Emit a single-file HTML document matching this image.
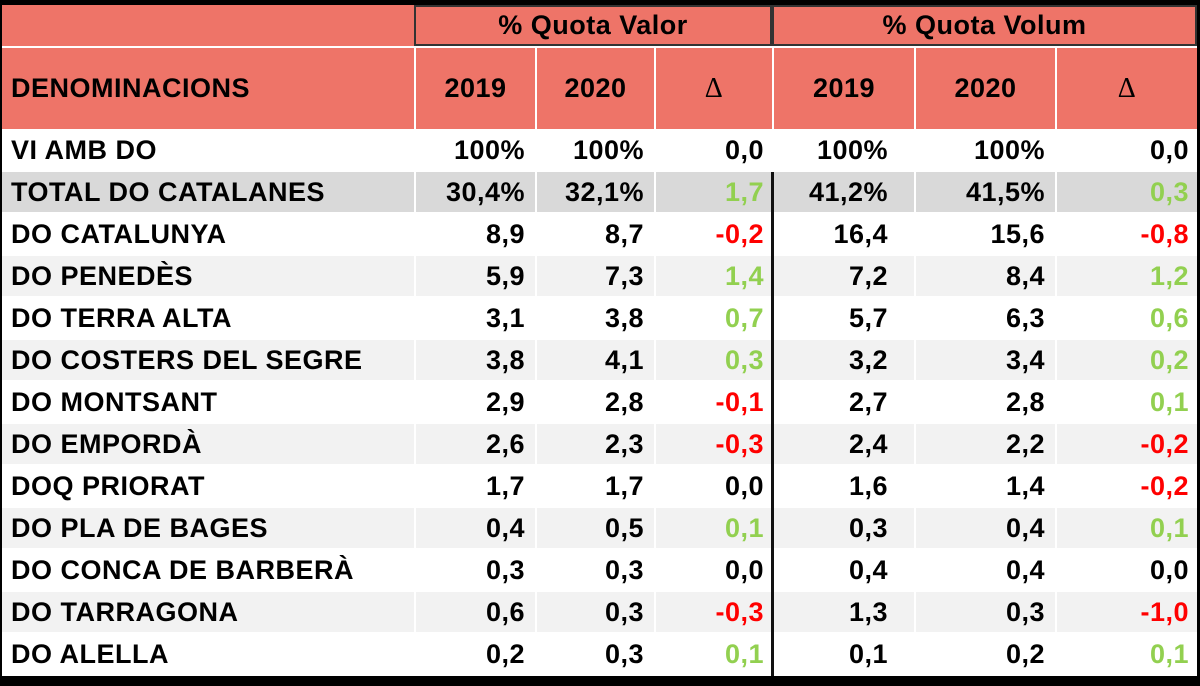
<!DOCTYPE html>
<html><head><meta charset="utf-8"><style>
body{margin:0;width:1200px;height:686px;background:#000;position:relative;overflow:hidden;font-family:"Liberation Sans",Arial,sans-serif;font-weight:bold;font-size:27px;letter-spacing:0.5px;color:#000}
#w{position:absolute;left:2px;top:5px;width:1195px;height:671px;background:#fff}
.r{position:absolute;left:0;width:1200px;height:40px}
.c{position:absolute;top:0;height:100%;box-sizing:border-box;display:flex;align-items:center;justify-content:flex-end;padding-right:10px;white-space:nowrap}
.c0{left:2px;width:412px;justify-content:flex-start;padding-left:9px}
.c1{left:416px;width:119px}.c2{left:537px;width:117px}.c3{left:656px;width:116px;padding-right:8px}
.c4{left:774px;width:140px;padding-right:26px}.c5{left:916px;width:139px;padding-right:10px}.c6{left:1057px;width:140px;padding-right:8px}
.h .c{background:#ee7468;justify-content:center;padding:0}
.h .c0{justify-content:flex-start;padding-left:9px}
.g .c{background:#f2f2f2}.t .c{background:#d9d9d9}
.gr{color:#92d050}.rd{color:#ff0000}
.d{font-family:"Liberation Serif",serif;font-weight:normal;font-size:28px}
#vl{position:absolute;left:771px;top:172px;width:3px;height:504px;background:#111}
</style></head><body>
<div id="w"></div>
<div class="r h" style="top:5px;height:41px">
<div class="c c0" style="width:412px"></div>
<div class="c" style="left:414px;width:358px;border:2px solid #333">% Quota Valor</div>
<div class="c" style="left:772px;width:425px;border:2px solid #333">% Quota Volum</div>
</div>
<div class="r h" style="top:48px;height:81px">
<div class="c c0">DENOMINACIONS</div><div class="c c1">2019</div><div class="c c2">2020</div><div class="c c3 d">Δ</div><div class="c c4">2019</div><div class="c c5">2020</div><div class="c c6 d">Δ</div>
</div>
<div class="r" style="top:130px"><div class="c c0">VI AMB DO</div><div class="c c1">100%</div><div class="c c2">100%</div><div class="c c3">0,0</div><div class="c c4">100%</div><div class="c c5">100%</div><div class="c c6">0,0</div></div>
<div class="r t" style="top:172px"><div class="c c0">TOTAL DO CATALANES</div><div class="c c1">30,4%</div><div class="c c2">32,1%</div><div class="c c3 gr">1,7</div><div class="c c4">41,2%</div><div class="c c5">41,5%</div><div class="c c6 gr">0,3</div></div>
<div class="r" style="top:214px"><div class="c c0">DO CATALUNYA</div><div class="c c1">8,9</div><div class="c c2">8,7</div><div class="c c3 rd">-0,2</div><div class="c c4">16,4</div><div class="c c5">15,6</div><div class="c c6 rd">-0,8</div></div>
<div class="r g" style="top:256px"><div class="c c0">DO PENEDÈS</div><div class="c c1">5,9</div><div class="c c2">7,3</div><div class="c c3 gr">1,4</div><div class="c c4">7,2</div><div class="c c5">8,4</div><div class="c c6 gr">1,2</div></div>
<div class="r" style="top:298px"><div class="c c0">DO TERRA ALTA</div><div class="c c1">3,1</div><div class="c c2">3,8</div><div class="c c3 gr">0,7</div><div class="c c4">5,7</div><div class="c c5">6,3</div><div class="c c6 gr">0,6</div></div>
<div class="r g" style="top:340px"><div class="c c0">DO COSTERS DEL SEGRE</div><div class="c c1">3,8</div><div class="c c2">4,1</div><div class="c c3 gr">0,3</div><div class="c c4">3,2</div><div class="c c5">3,4</div><div class="c c6 gr">0,2</div></div>
<div class="r" style="top:382px"><div class="c c0">DO MONTSANT</div><div class="c c1">2,9</div><div class="c c2">2,8</div><div class="c c3 rd">-0,1</div><div class="c c4">2,7</div><div class="c c5">2,8</div><div class="c c6 gr">0,1</div></div>
<div class="r g" style="top:424px"><div class="c c0">DO EMPORDÀ</div><div class="c c1">2,6</div><div class="c c2">2,3</div><div class="c c3 rd">-0,3</div><div class="c c4">2,4</div><div class="c c5">2,2</div><div class="c c6 rd">-0,2</div></div>
<div class="r" style="top:466px"><div class="c c0">DOQ PRIORAT</div><div class="c c1">1,7</div><div class="c c2">1,7</div><div class="c c3">0,0</div><div class="c c4">1,6</div><div class="c c5">1,4</div><div class="c c6 rd">-0,2</div></div>
<div class="r g" style="top:508px"><div class="c c0">DO PLA DE BAGES</div><div class="c c1">0,4</div><div class="c c2">0,5</div><div class="c c3 gr">0,1</div><div class="c c4">0,3</div><div class="c c5">0,4</div><div class="c c6 gr">0,1</div></div>
<div class="r" style="top:550px"><div class="c c0">DO CONCA DE BARBERÀ</div><div class="c c1">0,3</div><div class="c c2">0,3</div><div class="c c3">0,0</div><div class="c c4">0,4</div><div class="c c5">0,4</div><div class="c c6">0,0</div></div>
<div class="r g" style="top:592px"><div class="c c0">DO TARRAGONA</div><div class="c c1">0,6</div><div class="c c2">0,3</div><div class="c c3 rd">-0,3</div><div class="c c4">1,3</div><div class="c c5">0,3</div><div class="c c6 rd">-1,0</div></div>
<div class="r" style="top:634px"><div class="c c0">DO ALELLA</div><div class="c c1">0,2</div><div class="c c2">0,3</div><div class="c c3 gr">0,1</div><div class="c c4">0,1</div><div class="c c5">0,2</div><div class="c c6 gr">0,1</div></div>
<div id="vl"></div>
</body></html>
